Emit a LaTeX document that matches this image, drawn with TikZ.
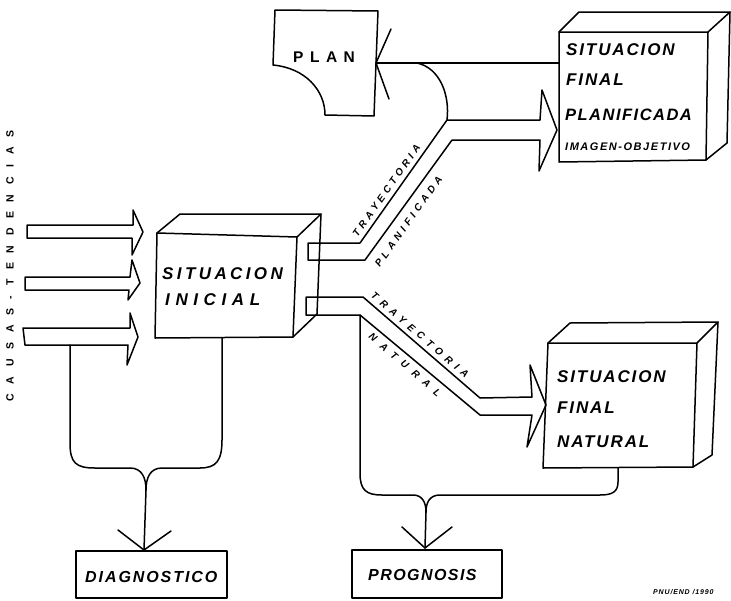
\documentclass[tikz,border=0pt]{standalone}
\usepackage{fontspec}
\newfontfamily\hand{Liberation Sans}
\newcommand\hf[2]{\hand\bfseries\itshape\fontsize{#1}{#1}\selectfont\addfontfeature{LetterSpace=#2}}
\newcommand\hu[2]{\hand\bfseries\fontsize{#1}{#1}\selectfont\addfontfeature{LetterSpace=#2}}
\tikzset{
  ln/.style={line width=1.5pt, line join=round, line cap=round},
  lbl/.style={inner sep=0pt, anchor=base west},
  tl/.style={inner sep=0pt, anchor=center}
}
\begin{document}
\begin{tikzpicture}[x=1pt,y=-1pt]
\useasboundingbox (0,0) rectangle (731,600);

% ---------- PLAN ----------
\draw[ln] (275,10) -- (378,11) -- (374,116) -- (325,115)
   .. controls (325,90) and (305,68) .. (273,65) -- cycle;
\node[lbl, font={\hu{15.5}{42}}] (plan) at (293,62) {PLAN};
\coordinate (pj) at (376,63);
\draw[ln] (391,29) -- (pj) -- (389,99);
\coordinate (pe) at (559,63);
\draw[ln] (pj) -- (pe);
\coordinate (pc) at (417,63);
\coordinate (pm) at (447,120);
\draw[ln] (pc) .. controls (440,68) and (450,95) .. (pm);

% ---------- SITUACION INICIAL box ----------
\draw[ln] (157,233) -- (297,237) -- (293,337) -- (155,338) -- cycle;
\draw[ln] (157,233) -- (180,214) -- (321,214) -- (297,237);
\draw[ln] (321,214) -- (317,314) -- (293,337);
\node[lbl, font={\hf{17}{20}}] (si1) at (162,279) {SITUACION};
\node[lbl, font={\hf{17}{33}}] (si2) at (165,305) {INICIAL};

% ---------- SITUACION FINAL PLANIFICADA box ----------
\draw[ln] (559,32) -- (708,32) -- (706,160) -- (559,162) -- cycle;
\draw[ln] (559,32) -- (579,12) -- (730,12) -- (708,32);
\draw[ln] (730,12) -- (727,143) -- (706,160);
\node[lbl, font={\hf{17}{11}}] (sp1) at (566,55) {SITUACION};
\node[lbl, font={\hf{17}{11}}] (sp2) at (566,85) {FINAL};
\node[lbl, font={\hf{16.5}{9}}] (sp3) at (565,120) {PLANIFICADA};
\node[lbl, font={\hf{11}{14}}] (sp4) at (565,150) {IMAGEN-OBJETIVO};

% ---------- SITUACION FINAL NATURAL box ----------
\draw[ln] (548,343) -- (697,343) -- (693,467) -- (543,468) -- cycle;
\draw[ln] (548,343) -- (570,323) -- (718,322) -- (697,343);
\draw[ln] (718,322) -- (712,455) -- (693,467);
\node[lbl, font={\hf{17}{11}}] (sn1) at (557,382) {SITUACION};
\node[lbl, font={\hf{17}{11}}] (sn2) at (557,413) {FINAL};
\node[lbl, font={\hf{17}{11}}] (sn3) at (557,447) {NATURAL};

% ---------- planned trajectory arrow ----------
\draw[ln] (308,243) -- (360,243) -- (pm) -- (540,120) -- (542,90) -- (557,130)
  -- (539,171) -- (540,140) -- (452,140) -- (365,260) -- (308,260) -- cycle;
\node[tl, rotate=54.7, font={\hf{10}{38}}] (tp1) at (386.5,190.5) {TRAYECTORIA};
\node[tl, rotate=54.7, font={\hf{10}{41}}] (tp2) at (408.5,221.5) {PLANIFICADA};

% ---------- natural trajectory arrow ----------
\coordinate (nb) at (360,315);
\draw[ln] (306,297) -- (363,297) -- (480,398) -- (532,397) -- (530,365) -- (546,405)
  -- (527,447) -- (532,415) -- (480,415) -- (nb) -- (306,315) -- cycle;
\node[tl, rotate=-40.8, font={\hf{10}{54}}] (tn1) at (420,335) {TRAYECTORIA};
\node[tl, rotate=-40.8, font={\hf{10}{73}}] (tn2) at (405,365) {NATURAL};

% ---------- causas arrows ----------
\draw[ln] (27,225) -- (133,225) -- (133,210) -- (143,232) -- (132,255) -- (132,238) -- (27,238) -- cycle;
\draw[ln] (25,277) -- (130,277) -- (132,260) -- (140,283) -- (128,300) -- (129,290) -- (25,290) -- cycle;
\draw[ln] (23,328) -- (130,328) -- (130,313) -- (138,337) -- (127,365) -- (128,345) -- (25,345) -- cycle;
\node[tl, rotate=90, font={\hu{10.5}{92}}] (causas) at (10,266) {CAUSAS-TENDENCIAS};

% ---------- DIAGNOSTICO ----------
\draw[ln] (76,551) rectangle (227,598);
\node[lbl, font={\hf{16}{12}}] (diag) at (85,582) {DIAGNOSTICO};
\coordinate (dj) at (146,490);
\coordinate (dt) at (144,550);
\draw[ln] (70,345) -- (70,443) .. controls (70,463) and (76,468) .. (95,468) -- (130,468)
  .. controls (142,468) and (146,478) .. (dj);
\draw[ln] (222,338) -- (222,440) .. controls (222,461) and (216,468) .. (200,468) -- (162,468)
  .. controls (150,468) and (146,478) .. (dj);
\draw[ln] (dj) -- (dt);
\draw[ln] (118,530) -- (dt) -- (171,531);

% ---------- PROGNOSIS ----------
\draw[ln] (352,550) rectangle (502,598);
\node[lbl, font={\hf{16}{9}}] (prog) at (368,580) {PROGNOSIS};
\coordinate (gj) at (426,512);
\coordinate (gt) at (425,548);
\draw[ln] (nb) -- (360,473) .. controls (360,490) and (366,495) .. (382,495) -- (413,495)
  .. controls (422,495) and (426,502) .. (gj);
\draw[ln] (618,468) -- (618,482) .. controls (618,492) and (612,495) .. (600,495) -- (440,495)
  .. controls (430,495) and (426,502) .. (gj);
\draw[ln] (gj) -- (gt);
\draw[ln] (402,527) -- (gt) -- (452,527);

% ---------- footer ----------
\node[lbl, font={\hf{7}{12}}] (foot) at (653,594) {PNU/END /1990};
\end{tikzpicture}
\end{document}
